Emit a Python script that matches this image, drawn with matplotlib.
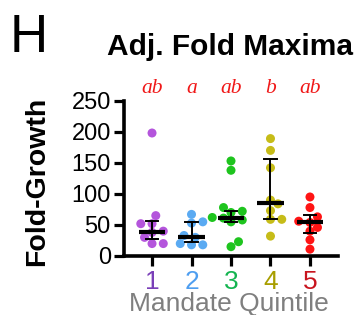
import matplotlib
matplotlib.use("Agg")
import matplotlib.pyplot as plt
import numpy as np
from matplotlib.transforms import blended_transform_factory

categories = ["1", "2", "3", "4", "5"]
values = [
    [198, 65, 52, 52, 40, 38, 30, 20, 20],
    [67, 55, 53, 33, 30, 20, 18, 18],
    [153, 138, 78, 72, 70, 62, 61, 58, 55, 23, 15],
    [189, 170, 142, 90, 84, 73, 59, 59, 32],
    [95, 78, 63, 56, 54, 46, 40, 26, 11],
]
medians = [39, 30, 61, 85, 54]
err_low = [27, 23, 54, 59, 37]
err_high = [57, 55, 72, 156, 66]
sig_letters = ["ab", "a", "ab", "b", "ab"]
yticks = [0, 50, 100, 150, 200, 250]

dot_colors = ["#B455DC", "#5AAAF2", "#1EC41E", "#C6BC18", "#FF1414"]
label_colors = ["#7A3FB8", "#4E9EF0", "#14B450", "#A89E00", "#C8141E"]

W, H = 359, 315
fig = plt.figure(figsize=(W / 100, H / 100), dpi=100)
ax = fig.add_axes([124 / W, (H - 256) / H, (338 - 124) / W, 155.3 / H])
ax.set_xlim(0.29, 5.71)
ax.set_ylim(0, 250)

# simple swarm placement in pixel space
px_per_x = (338 - 124) / (5.71 - 0.29)
px_per_y = 155.3 / 250
diam = 7.5
for i, vals in enumerate(values):
    xc = i + 1
    placed = []
    for v in sorted(vals):
        yp = v * px_per_y
        cands = [0]
        for k in range(1, 8):
            cands += [k * 0.5 * diam, -k * 0.5 * diam]
        for off in cands:
            if all((off - o) ** 2 + (yp - y) ** 2 >= (diam * 1.1) ** 2 for o, y in placed):
                placed.append((off, yp))
                break
    xs = [xc + o / px_per_x for o, _ in placed]
    ys = [y / px_per_y for _, y in placed]
    ax.scatter(xs, ys, s=42, color=dot_colors[i], edgecolors="none", zorder=2, clip_on=False)
    ax.plot([xc - 0.34, xc + 0.34], [medians[i], medians[i]], color="black", lw=3.0, zorder=3, solid_capstyle="butt")
    ax.plot([xc, xc], [err_low[i], err_high[i]], color="black", lw=1.4, zorder=3)
    for e in (err_low[i], err_high[i]):
        ax.plot([xc - 0.16, xc + 0.16], [e, e], color="black", lw=1.4, zorder=3)

for s in ["top", "right"]:
    ax.spines[s].set_visible(False)
for s in ["left", "bottom"]:
    ax.spines[s].set_linewidth(2.6)
    ax.spines[s].set_capstyle("projecting")
ax.set_yticks(yticks)
ax.set_yticklabels([str(t) for t in yticks], fontsize=17, family="Liberation Sans")
ax.set_xticks(range(1, 6))
ax.set_xticklabels(categories, fontsize=19, family="Liberation Sans")
for lab, c in zip(ax.get_xticklabels(), label_colors):
    lab.set_color(c)
ax.tick_params(axis="y", length=7.5, width=2.3, pad=2)
ax.tick_params(axis="x", length=7.5, width=2.3, pad=2.5)

ax.set_ylabel("Fold-Growth", fontsize=20.5, fontweight="bold", family="Liberation Sans")
ax.yaxis.set_label_coords(-0.405, 0.48)
ax.yaxis.label.set_verticalalignment("center")
ax.set_xlabel("Mandate Quintile", fontsize=19, color="#7F7F7F", family="Liberation Sans")
ax.xaxis.set_label_coords(0.49, -0.235)
ax.xaxis.label.set_verticalalignment("top")

fig.text(230 / W, 1 - 55 / H, "Adj. Fold Maxima", fontsize=21.5, fontweight="bold",
         family="Liberation Sans", ha="center", va="baseline")
fig.text(10 / W, 1 - 52 / H, "H", fontsize=38, family="Liberation Sans", ha="left", va="baseline")

tr = blended_transform_factory(ax.transData, ax.transAxes)
for i, s in enumerate(sig_letters):
    ax.text(i + 1, 1.05, s, transform=tr, fontsize=15.5, style="italic", family="Liberation Serif",
            color="#F01818", ha="center", va="baseline")

fig.savefig("out.png", dpi=100)
